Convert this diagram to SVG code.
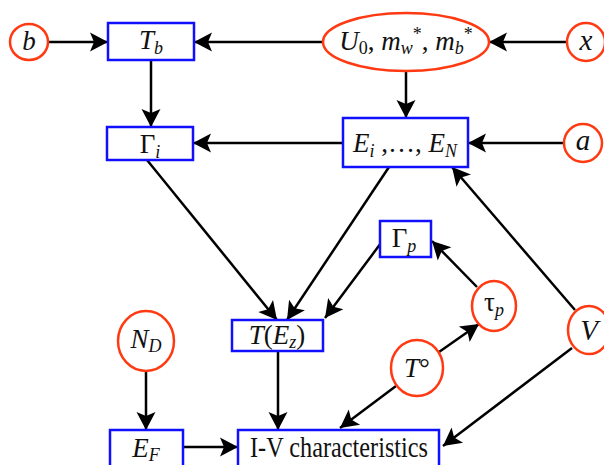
<svg xmlns="http://www.w3.org/2000/svg" width="604" height="465" viewBox="0 0 604 465">
<defs>
<marker id="ah" markerWidth="20" markerHeight="20" viewBox="-19 -10 20 20" refX="0" refY="0" orient="auto" markerUnits="userSpaceOnUse">
<path d="M0,0 L-18,-9.5 L-14,0 L-18,9.5 Z" fill="#000"/>
</marker>
</defs>
<style>
.box{fill:#fff;stroke:#1010ff;stroke-width:2.5}
.cir{fill:#fff;stroke:#ff3a12;stroke-width:2.5}
.lk{stroke:#000;stroke-width:2.5;fill:none;marker-end:url(#ah)}
.t{font-family:'Liberation Serif','DejaVu Serif',serif;font-size:27px;fill:#111;text-anchor:middle}
.it{font-style:italic}
.up{font-style:normal}
.sb{font-size:18px}
</style>
<rect width="604" height="465" fill="#fff"/>
<g id="connectors">
<line class="lk" x1="48" y1="42" x2="108" y2="42"/>
<line class="lk" x1="323" y1="42" x2="194" y2="42"/>
<line class="lk" x1="567" y1="42" x2="489" y2="42"/>
<line class="lk" x1="151" y1="60" x2="151" y2="127"/>
<line class="lk" x1="406" y1="71" x2="406" y2="118"/>
<line class="lk" x1="343" y1="143" x2="193" y2="143"/>
<line class="lk" x1="563" y1="143" x2="468" y2="143"/>
<line class="lk" x1="147" y1="160" x2="277" y2="320"/>
<line class="lk" x1="389" y1="167" x2="287" y2="320"/>
<line class="lk" x1="381" y1="243" x2="325" y2="318"/>
<line class="lk" x1="477" y1="287" x2="432" y2="241"/>
<line class="lk" x1="439" y1="352" x2="479" y2="324"/>
<line class="lk" x1="396" y1="386" x2="340" y2="428"/>
<line class="lk" x1="575" y1="310" x2="452" y2="167"/>
<line class="lk" x1="572" y1="348" x2="443" y2="446"/>
<line class="lk" x1="278" y1="351" x2="278" y2="430"/>
<line class="lk" x1="146" y1="371" x2="146" y2="430"/>
<line class="lk" x1="183" y1="447" x2="238" y2="447"/>
</g>
<g id="b"><ellipse class="cir" cx="29" cy="42" rx="19" ry="18"/><text class="t it" x="29" y="50">b</text></g>
<g id="Tb"><rect class="box" x="108" y="23" width="86" height="37"/><text class="t it" x="151" y="49">T<tspan class="sb" dy="5">b</tspan></text></g>
<g id="U0"><ellipse class="cir" cx="406" cy="42" rx="83" ry="29"/><text class="t it" x="406" y="50">U<tspan class="sb up" dy="4">0</tspan><tspan class="up" dy="-4">, </tspan>m<tspan class="sb" dy="4">w</tspan><tspan class="sb up" dy="-14">*</tspan><tspan class="up" dy="10">, </tspan>m<tspan class="sb" dy="4">b</tspan><tspan class="sb up" dy="-14">*</tspan></text></g>
<g id="x"><ellipse class="cir" cx="586" cy="42" rx="19" ry="19"/><text class="t it" x="586" y="50" style="font-size:29px">x</text></g>
<g id="Gi"><rect class="box" x="107" y="127" width="86" height="33"/><text class="t" x="150" y="153">Γ<tspan class="sb it" dy="5">i</tspan></text></g>
<g id="E"><rect class="box" x="343" y="118" width="125" height="49"/><text class="t it" x="405" y="152">E<tspan class="sb" dy="5">i</tspan><tspan class="up" dy="-5"> ,…, </tspan>E<tspan class="sb" dy="5">N</tspan></text></g>
<g id="a"><ellipse class="cir" cx="583" cy="143" rx="19" ry="19"/><text class="t it" x="583" y="150" style="font-size:29px">a</text></g>
<g id="Gp"><rect class="box" x="380" y="221" width="51" height="36"/><text class="t" x="404" y="247">Γ<tspan class="sb it" dy="5">p</tspan></text></g>
<g id="taup"><ellipse class="cir" cx="494" cy="306" rx="22" ry="25"/><text class="t" x="494" y="311">τ<tspan class="sb it" dy="5">p</tspan></text></g>
<g id="TEz"><rect class="box" x="232" y="320" width="91" height="31"/><text class="t it" x="277" y="344">T<tspan class="up">(</tspan>E<tspan class="sb" dy="4">z</tspan><tspan class="up" dy="-4">)</tspan></text></g>
<g id="V"><ellipse class="cir" cx="589" cy="330" rx="21" ry="24"/><text class="t it" x="589" y="340" style="font-size:29px">V</text></g>
<g id="ND"><ellipse class="cir" cx="146" cy="341" rx="28" ry="30"/><text class="t it" x="146" y="348">N<tspan class="sb" dy="4">D</tspan></text></g>
<g id="Tdeg"><ellipse class="cir" cx="417" cy="368" rx="26" ry="28"/><text class="t it" x="417" y="377">T<tspan class="up">°</tspan></text></g>
<g id="EF"><rect class="box" x="110" y="430" width="73" height="40"/><text class="t it" x="146" y="457">E<tspan class="sb" dy="4">F</tspan></text></g>
<g id="IV"><rect class="box" x="238" y="430" width="201" height="40"/><text class="t" x="339" y="457" style="font-size:29px" textLength="178" lengthAdjust="spacingAndGlyphs">I-V characteristics</text></g>
</svg>
